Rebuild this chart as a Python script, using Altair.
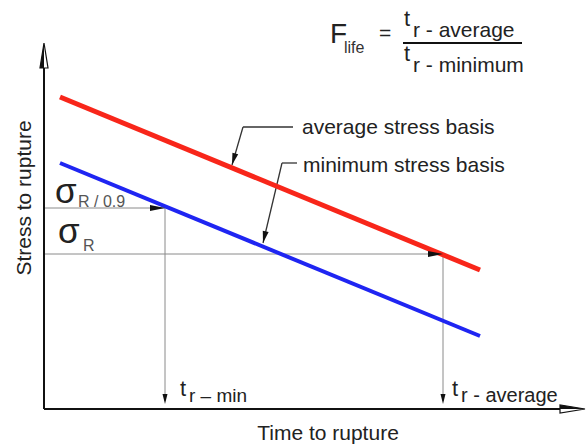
import altair as alt
import pandas as pd

# ---- schematic values (time / stress in arbitrary diagram units) ----
line_names = ["average stress basis", "minimum stress basis"]
line_t0 = [16, 16]
line_s0 = [312, 246]
line_t1 = [436, 436]
line_s1 = [139, 73]
line_colors = ["#f8261a", "#1f25f2"]
line_widths = [5, 4]

sigma_levels = [201, 155]          # sigma_R/0.9 and sigma_R
t_rupture = [121, 399]             # t_r-min and t_r-average

# axes
axis_len_t = 541
axis_len_s = 366

font = "Liberation Sans, Arial, Helvetica, sans-serif"

# ---- segments ----
seg = []
# gray projection lines
seg.append(dict(x=0, y=sigma_levels[0], x2=t_rupture[0], y2=sigma_levels[0], c="#8a8a8a", w=1))
seg.append(dict(x=0, y=sigma_levels[1], x2=t_rupture[1], y2=sigma_levels[1], c="#8a8a8a", w=1))
seg.append(dict(x=t_rupture[0], y=sigma_levels[0], x2=t_rupture[0], y2=8, c="#8a8a8a", w=1))
seg.append(dict(x=t_rupture[1], y=sigma_levels[1], x2=t_rupture[1], y2=8, c="#8a8a8a", w=1))
# leaders
seg.append(dict(x=249, y=282, x2=199, y2=282, c="#333333", w=1.3))
seg.append(dict(x=199, y=282, x2=188, y2=244, c="#333333", w=1.3))
seg.append(dict(x=253, y=246, x2=238, y2=246, c="#333333", w=1.3))
seg.append(dict(x=238, y=246, x2=219, y2=166, c="#333333", w=1.3))
# axes
seg.append(dict(x=0, y=0, x2=0, y2=axis_len_s - 20, c="#111111", w=2))
seg.append(dict(x=0, y=0, x2=axis_len_t - 20, y2=0, c="#111111", w=2))
# fraction bar
seg.append(dict(x=359, y=366, x2=478, y2=366, c="#111111", w=2))
for i in range(2):
    seg.append(dict(x=line_t0[i], y=line_s0[i], x2=line_t1[i], y2=line_s1[i],
                    c=line_colors[i], w=line_widths[i]))
seg_df = pd.DataFrame(seg)

xs = alt.Scale(domain=[-44, 543], nice=False, zero=False)
ys = alt.Scale(domain=[-38, 409], nice=False, zero=False)

rules = alt.Chart(seg_df).mark_rule(strokeCap="butt").encode(
    x=alt.X("x:Q", scale=xs, axis=None),
    y=alt.Y("y:Q", scale=ys, axis=None),
    x2="x2:Q", y2="y2:Q",
    color=alt.Color("c:N", scale=None),
    strokeWidth=alt.StrokeWidth("w:Q", scale=None),
)

# ---- arrowheads (tip at origin, pointing up before rotation) ----
def tri(hw):
    return f"M0,0 L{hw},2 L-{hw},2 Z"

def half(hw):
    return f"M0,0 L0,2 L-{hw},2 Z"

arrows = [
    dict(x=0, y=axis_len_s, a=0, s=625, shp=tri(0.32)),
    dict(x=axis_len_t, y=0, a=90, s=625, shp=tri(0.32)),
]
arrows_fill = [
    dict(x=0, y=axis_len_s, a=0, s=625, shp=half(0.32)),
    dict(x=axis_len_t, y=0, a=90, s=625, shp=half(0.32)),
    dict(x=t_rupture[0], y=sigma_levels[0], a=90, s=225, shp=tri(0.4)),
    dict(x=t_rupture[1], y=sigma_levels[1], a=90, s=225, shp=tri(0.4)),
    dict(x=t_rupture[0], y=5, a=180, s=100, shp=tri(0.5)),
    dict(x=t_rupture[1], y=5, a=180, s=100, shp=tri(0.5)),
    dict(x=188, y=244, a=196, s=144, shp=tri(0.5)),
    dict(x=219, y=166, a=193, s=144, shp=tri(0.5)),
]
open_df = pd.DataFrame(arrows)
fill_df = pd.DataFrame(arrows_fill)

open_pts = alt.Chart(open_df).mark_point(filled=True, fill="white", stroke="#111111",
                                         strokeWidth=1.2, opacity=1).encode(
    x=alt.X("x:Q", scale=xs), y=alt.Y("y:Q", scale=ys),
    angle=alt.Angle("a:Q", scale=None),
    size=alt.Size("s:Q", scale=None),
    shape=alt.Shape("shp:N", scale=None),
)
fill_pts = alt.Chart(fill_df).mark_point(filled=True, color="#111111", opacity=1).encode(
    x=alt.X("x:Q", scale=xs), y=alt.Y("y:Q", scale=ys),
    angle=alt.Angle("a:Q", scale=None),
    size=alt.Size("s:Q", scale=None),
    shape=alt.Shape("shp:N", scale=None),
)

# ---- texts ----
texts = [
    dict(t="average stress basis", x=258, y=275, s=21, c="#222222"),
    dict(t="minimum stress basis", x=259, y=237, s=21, c="#222222"),
    dict(t="σ", x=11, y=206, s=35, c="#222222"),
    dict(t="R / 0.9", x=34, y=202, s=16, c="#555555"),
    dict(t="σ", x=14, y=166, s=35, c="#222222"),
    dict(t="R", x=39, y=158, s=16, c="#555555"),
    dict(t="t", x=136, y=13, s=22, c="#222222"),
    dict(t="r – min", x=145, y=7, s=19, c="#222222"),
    dict(t="t", x=408, y=13, s=22, c="#222222"),
    dict(t="r - average", x=417, y=7, s=20, c="#222222"),
    dict(t="F", x=286, y=366, s=28, c="#222222"),
    dict(t="life", x=300, y=356, s=16, c="#333333"),
    dict(t="=", x=335, y=369, s=21, c="#222222"),
    dict(t="t", x=360, y=383, s=22, c="#222222"),
    dict(t="r - average", x=369, y=372, s=21, c="#222222"),
    dict(t="t", x=360, y=348, s=22, c="#222222"),
    dict(t="r - minimum", x=369, y=337, s=21, c="#222222"),
]
text_df = pd.DataFrame(texts)
labels = alt.Chart(text_df).mark_text(align="left", baseline="alphabetic", font=font).encode(
    x=alt.X("x:Q", scale=xs), y=alt.Y("y:Q", scale=ys),
    text="t:N",
    size=alt.Size("s:Q", scale=None),
    color=alt.Color("c:N", scale=None),
)

titles_df = pd.DataFrame([dict(t="Time to rupture", x=284, y=-25, a=0),
                          dict(t="Stress to rupture", x=-19, y=211, a=270)])
titles = alt.Chart(titles_df).mark_text(align="center", baseline="middle", font=font,
                                        fontSize=21, color="#222222").encode(
    x=alt.X("x:Q", scale=xs), y=alt.Y("y:Q", scale=ys),
    text="t:N",
    angle=alt.Angle("a:Q", scale=None),
)

chart = alt.layer(rules, open_pts, fill_pts, labels, titles).properties(
    width=587, height=447, padding=0, autosize=alt.AutoSizeParams(type="none"),
    background="white",
).configure_view(stroke=None)

chart.save("out.html", embed_options={"renderer": "svg", "actions": False})
